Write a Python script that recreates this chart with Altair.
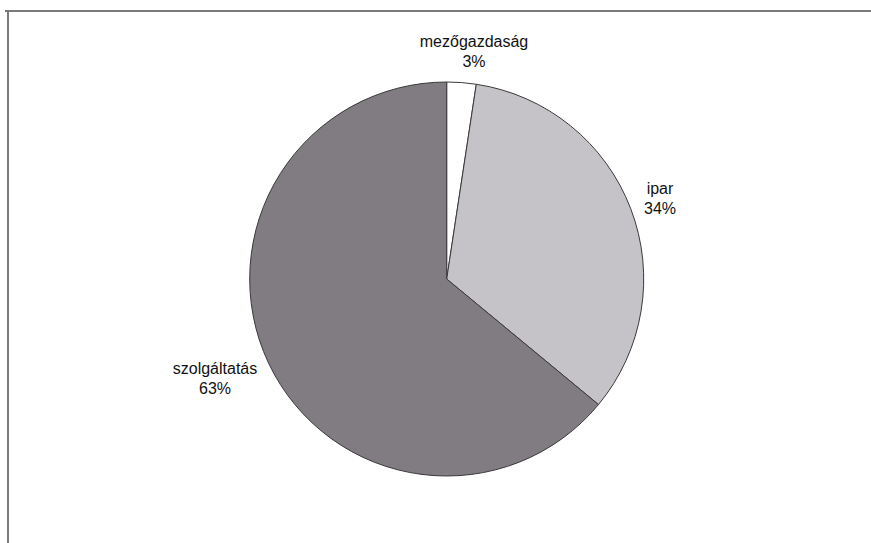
import altair as alt
import pandas as pd

categories = ["mezőgazdaság", "ipar", "szolgáltatás"]
values = [2.4, 33.6, 64.0]
pct_labels = ["3%", "34%", "63%"]
colors = ["#ffffff", "#c5c3c7", "#807c81"]
order = [0, 1, 2]

df = pd.DataFrame({"cat": categories, "value": values, "pct": pct_labels, "ord": order})
df["label"] = df["cat"] + "\n" + df["pct"]

W, H = 863, 532

pie = alt.Chart(df).mark_arc(stroke="#3a3a3a", strokeWidth=1, radius=197).encode(
    theta=alt.Theta("value:Q", stack=True),
    order=alt.Order("ord:Q"),
    color=alt.Color("cat:N", scale=alt.Scale(domain=categories, range=colors), legend=None),
    x=alt.value(438.7),
    y=alt.value(268),
)

frame_top = alt.Chart(df.head(1)).mark_rule(color="#7a7a7a", strokeWidth=2).encode(
    x=alt.value(-3), x2=alt.value(W), y=alt.value(0)
)
frame_left = alt.Chart(df.head(1)).mark_rule(color="#7a7a7a", strokeWidth=2).encode(
    x=alt.value(0), y=alt.value(0), y2=alt.value(H)
)

def label(cat, x, y):
    return alt.Chart(df).transform_filter(alt.datum.cat == cat).mark_text(
        font="Liberation Sans", fontSize=16, color="#111111", align="center",
        baseline="alphabetic", lineBreak="\n", lineHeight=20
    ).encode(text="label:N", x=alt.value(x), y=alt.value(y))

chart = alt.layer(
    frame_top, frame_left,
    pie,
    label("mezőgazdaság", 466, 36),
    label("ipar", 652, 183),
    label("szolgáltatás", 207, 363),
).properties(
    width=W, height=H,
    autosize=alt.AutoSizeParams(type="none"),
    padding={"left": 8, "top": 11, "right": 0, "bottom": 0},
    background="white",
).configure_view(stroke=None)

chart.save("out.html", embed_options={"renderer": "svg", "actions": False})
